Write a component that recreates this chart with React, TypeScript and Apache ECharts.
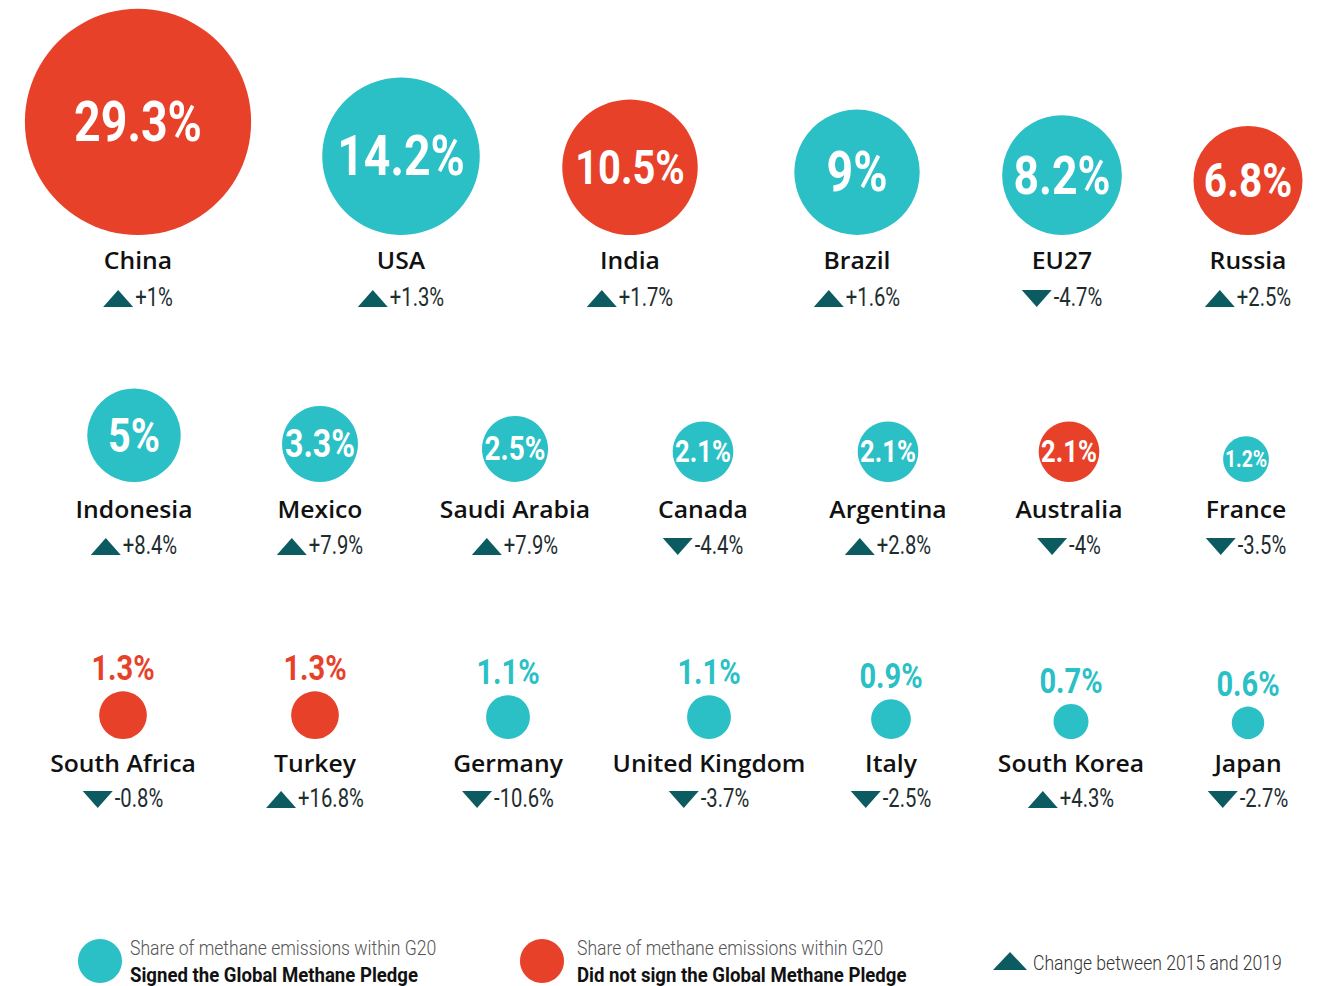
import React, { useEffect, useRef } from "react";
import * as echarts from "echarts";

// ---------- DATA ----------
const countries = [
  "China", "USA", "India", "Brazil", "EU27", "Russia",
  "Indonesia", "Mexico", "Saudi Arabia", "Canada", "Argentina", "Australia", "France",
  "South Africa", "Turkey", "Germany", "United Kingdom", "Italy", "South Korea", "Japan",
];
const shares = [29.3, 14.2, 10.5, 9, 8.2, 6.8, 5, 3.3, 2.5, 2.1, 2.1, 2.1, 1.2, 1.3, 1.3, 1.1, 1.1, 0.9, 0.7, 0.6];
const changes = [1, 1.3, 1.7, 1.6, -4.7, 2.5, 8.4, 7.9, 7.9, -4.4, 2.8, -4, -3.5, -0.8, 16.8, -10.6, -3.7, -2.5, 4.3, -2.7];
const signedPledge = [
  false, true, false, true, true, false,
  true, true, true, true, true, false, true,
  false, false, true, true, true, true, true,
];
const rowSizes = [6, 7, 7];
const legendShareText = "Share of methane emissions within G20";
const legendSigned = "Signed the Global Methane Pledge";
const legendNotSigned = "Did not sign the Global Methane Pledge";
const legendChange = "Change between 2015 and 2019";

// ---------- LAYOUT ----------
const W = 1322;
const H = 986;
const COLUMN_X = [
  [138, 401, 630, 857, 1062, 1248],
  [134, 320, 515, 703, 888, 1069, 1246],
  [123, 315, 508, 709, 891, 1071, 1248],
];
const ROW_BASE = [235, 482, 739];
const NAME_Y = [260, 509, 763];
const CHANGE_Y = [298, 546, 799];
const RADIUS_K = 20.9; // px of radius per sqrt(% share)

const RED = "#E8412A";
const TEAL = "#2BBFC6";
const DARK = "#0B5B61";
const NUM_FONT = "Roboto";
const NUM_SX = 0.83;

const fmtShare = (v: number) => `${v}%`;
const fmtChange = (v: number) => `${v > 0 ? "+" : ""}${v}%`;

let measureCtx: CanvasRenderingContext2D | null = null;
function textWidth(t: string, font: string): number {
  if (!measureCtx) measureCtx = document.createElement("canvas").getContext("2d");
  if (!measureCtx) return t.length * 10;
  measureCtx.font = font;
  return measureCtx.measureText(t).width;
}

function buildItems() {
  const items: number[][] = [];
  let idx = 0;
  rowSizes.forEach((n, row) => {
    for (let c = 0; c < n; c++) {
      items.push([COLUMN_X[row][c], ROW_BASE[row], shares[idx], idx, row]);
      idx++;
    }
  });
  return items;
}

export default function App() {
  const ref = useRef<HTMLDivElement>(null);

  useEffect(() => {
    if (!ref.current) return;
    const chart = echarts.init(ref.current, undefined, { renderer: "svg" });

    const CHANGE_FS = 25;
    const CHANGE_SX = 0.81;

    const renderItem = (params: any, api: any) => {
      const x = api.value(0);
      const base = api.value(1);
      const share = api.value(2);
      const i = api.value(3);
      const row = api.value(4);
      const r = api.size([RADIUS_K * Math.sqrt(share), 0])[0];
      const pt = api.coord([x, base]);
      const cx = pt[0];
      const cy = pt[1] - r;
      const color = signedPledge[i] ? TEAL : RED;
      const label = fmtShare(share);
      const children: any[] = [
        { type: "circle", shape: { cx, cy, r }, style: { fill: color } },
      ];
      if (row < 2) {
        let fs = Math.min(56, r * 1.02);
        if (r > 45) {
          const w = textWidth(label, `bold ${fs}px ${NUM_FONT}`) * NUM_SX;
          const maxW = 1.62 * r;
          if (w > maxW) fs = (fs * maxW) / w;
        }
        children.push({
          type: "text",
          x: cx,
          y: cy,
          scaleX: NUM_SX,
          style: {
            text: label,
            fill: "#fff",
            fontFamily: NUM_FONT,
            fontWeight: "bold",
            fontSize: fs,
            align: "center",
            verticalAlign: "middle",
          },
        });
      } else {
        children.push({
          type: "text",
          x: cx,
          y: cy - r - 23,
          scaleX: NUM_SX,
          style: {
            text: label,
            fill: color,
            fontFamily: NUM_FONT,
            fontWeight: "bold",
            fontSize: 35,
            align: "center",
            verticalAlign: "middle",
          },
        });
      }
      const ny = api.coord([0, NAME_Y[row]])[1];
      children.push({
        type: "text",
        x: cx,
        y: ny,
        scaleX: 1.03,
        style: {
          text: countries[i],
          fill: "#111",
          fontFamily: "Open Sans",
          fontWeight: 600,
          fontSize: 24,
          align: "center",
          verticalAlign: "middle",
        },
      });
      const cyc = api.coord([0, CHANGE_Y[row]])[1];
      const ct = fmtChange(changes[i]);
      const cw = textWidth(ct, `${CHANGE_FS}px Roboto`) * CHANGE_SX;
      const total = 30 + 2 + cw;
      const left = cx - total / 2;
      const pts =
        changes[i] >= 0
          ? [[left, cyc + 9], [left + 15, cyc - 8], [left + 30, cyc + 9]]
          : [[left, cyc - 8], [left + 30, cyc - 8], [left + 15, cyc + 9]];
      children.push({ type: "polygon", shape: { points: pts }, style: { fill: DARK } });
      children.push({
        type: "text",
        x: left + 32,
        y: cyc,
        scaleX: CHANGE_SX,
        style: {
          text: ct,
          fill: "#1E2D30",
          fontFamily: "Roboto",
          fontSize: CHANGE_FS,
          align: "left",
          verticalAlign: "middle",
        },
      });
      return { type: "group", children };
    };

    const legendText = (x: number, y: number, text: string, bold: boolean, sx: number, fill: string) => ({
      type: "text",
      x,
      y,
      scaleX: sx,
      style: {
        text,
        fill,
        fontFamily: "Roboto",
        fontWeight: bold ? "bold" : 300,
        fontSize: 20,
        align: "left",
        verticalAlign: "middle",
      },
    });

    chart.setOption({
      animation: false,
      backgroundColor: "#ffffff",
      grid: { left: 0, right: 0, top: 0, bottom: 0 },
      xAxis: { type: "value", min: 0, max: W, show: false },
      yAxis: { type: "value", min: 0, max: H, inverse: true, show: false },
      series: [
        {
          type: "custom",
          renderItem,
          clip: false,
          data: buildItems(),
        },
      ],
      graphic: [
        { type: "circle", shape: { cx: 100, cy: 961, r: 22 }, style: { fill: TEAL } },
        legendText(130, 949, legendShareText, false, 0.88, "#555"),
        legendText(130, 975, legendSigned, true, 0.93, "#111"),
        { type: "circle", shape: { cx: 542, cy: 961, r: 22 }, style: { fill: RED } },
        legendText(577, 949, legendShareText, false, 0.88, "#555"),
        legendText(577, 975, legendNotSigned, true, 0.93, "#111"),
        { type: "polygon", shape: { points: [[993, 970], [1010, 952], [1027, 970]] }, style: { fill: DARK } },
        legendText(1033, 964, legendChange, false, 0.88, "#333"),
      ],
    });

    return () => chart.dispose();
  }, []);

  return (
    <div
      ref={ref}
      style={{ position: "fixed", left: 0, top: 0, width: W, height: H, background: "#fff" }}
    />
  );
}
